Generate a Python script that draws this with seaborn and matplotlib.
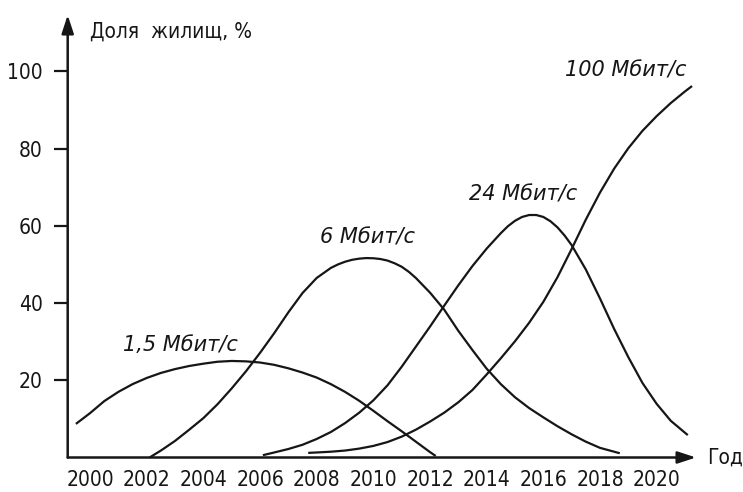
import numpy as np
import pandas as pd
import matplotlib
matplotlib.use("Agg")
import matplotlib.pyplot as plt
from matplotlib import font_manager as fm
import seaborn as sns

# --- data: share of households (%) by connection speed ---
years_15 = [1999.5, 2000, 2000.5, 2001, 2001.5, 2002, 2002.5, 2003, 2003.5, 2004,
            2004.5, 2005, 2005.5, 2006, 2006.5, 2007, 2007.5, 2008, 2008.5, 2009,
            2009.5, 2010, 2010.5, 2011, 2011.5, 2012, 2012.2]
share_15 = [8.7, 11.5, 14.6, 17.0, 19.0, 20.6, 21.9, 22.9, 23.7, 24.3,
            24.8, 25.0, 24.9, 24.6, 24.0, 23.1, 22.0, 20.7, 19.0, 17.0,
            14.7, 12.1, 9.4, 6.8, 4.1, 1.4, 0.4]

years_6 = [2002.1, 2002.5, 2003, 2003.5, 2004, 2004.5, 2005, 2005.5, 2006, 2006.5,
           2007, 2007.5, 2008, 2008.5, 2008.75, 2009, 2009.25, 2009.5, 2009.75, 2010,
           2010.25, 2010.5, 2010.75, 2011, 2011.25, 2011.5, 2012, 2012.5, 2013, 2013.5,
           2014, 2014.5, 2015, 2015.5, 2016, 2016.5, 2017, 2017.5, 2018, 2018.7]
share_6 = [0.0, 1.8, 4.3, 7.2, 10.2, 13.8, 17.9, 22.3, 27.1, 32.2,
           37.6, 42.6, 46.5, 49.1, 50.0, 50.7, 51.2, 51.5, 51.65, 51.6,
           51.4, 51.0, 50.3, 49.4, 48.1, 46.5, 42.7, 38.3, 32.8, 27.8,
           23.0, 19.0, 15.6, 12.8, 10.4, 8.1, 6.0, 4.1, 2.5, 1.1]

years_24 = [2006.1, 2006.5, 2007, 2007.5, 2008, 2008.5, 2009, 2009.5, 2010, 2010.5,
            2011, 2011.5, 2012, 2012.5, 2013, 2013.5, 2014, 2014.5, 2014.75, 2015,
            2015.25, 2015.5, 2015.75, 2016, 2016.25, 2016.5, 2016.75, 2017, 2017.5, 2018,
            2018.5, 2019, 2019.5, 2020, 2020.5, 2021.1]
share_24 = [0.6, 1.3, 2.2, 3.3, 4.8, 6.6, 8.9, 11.6, 14.8, 18.7,
            23.5, 28.7, 33.9, 39.3, 44.6, 49.6, 54.1, 58.1, 59.9, 61.3,
            62.3, 62.8, 62.8, 62.3, 61.2, 59.6, 57.5, 55.0, 48.7, 41.2,
            33.3, 26.0, 19.3, 13.9, 9.5, 5.8]

years_100 = [2007.7, 2008, 2008.5, 2009, 2009.5, 2010, 2010.5, 2011, 2011.5, 2012,
             2012.5, 2013, 2013.5, 2014, 2014.5, 2015, 2015.5, 2016, 2016.5, 2017,
             2017.5, 2018, 2018.5, 2019, 2019.5, 2020, 2020.5, 2021, 2021.25]
share_100 = [1.2, 1.3, 1.5, 1.8, 2.3, 3.0, 4.0, 5.4, 7.2, 9.3,
             11.6, 14.3, 17.5, 21.5, 25.7, 30.1, 34.9, 40.3, 46.7, 54.0,
             61.6, 68.6, 74.8, 80.1, 84.6, 88.4, 91.8, 94.8, 96.2]

series_names = ["1,5 Мбит/с", "6 Мбит/с", "24 Мбит/с", "100 Мбит/с"]
label_pos = {  # (year, share) of the curve captions
    "1,5 Мбит/с": (2003.2, 29.1),
    "6 Мбит/с": (2009.8, 57.1),
    "24 Мбит/с": (2015.3, 68.0),
    "100 Мбит/с": (2018.9, 100.1),
}

x_ticks = list(range(2000, 2021, 2))
y_ticks = [20, 40, 60, 80, 100]

df = pd.concat([
    pd.DataFrame({"year": years_15, "share": share_15, "speed": series_names[0]}),
    pd.DataFrame({"year": years_6, "share": share_6, "speed": series_names[1]}),
    pd.DataFrame({"year": years_24, "share": share_24, "speed": series_names[2]}),
    pd.DataFrame({"year": years_100, "share": share_100, "speed": series_names[3]}),
], ignore_index=True)

sns.set_theme(style="white")
plt.rcParams["font.family"] = ["DejaVu Sans"]


def narrow_font():
    """Pick a condensed sans-serif face if one is installed."""
    files = [f.fname for f in fm.fontManager.ttflist]
    prefs = [("LiberationSansNarrow-Regular", 16.5),
             ("DejaVuSansCondensed.ttf", 15.0),
             ("RobotoCondensed-Regular", 16.0),
             ("OpenSans_Condensed-Regular", 15.5),
             ("LiberationSans-Regular", 15.0)]
    for key, size in prefs:
        for path in files:
            if key in path.split("/")[-1]:
                return fm.FontProperties(fname=path, size=size)
    return fm.FontProperties(family="DejaVu Sans", stretch="condensed", size=14.5)


fp = narrow_font()
ink = "#161616"

fig = plt.figure(figsize=(7.43, 4.92), dpi=100)
ax = fig.add_axes([67.7 / 743, (492 - 457.5) / 492, (696 - 67.7) / 743, (457.5 - 15) / 492])

sns.lineplot(data=df, x="year", y="share", hue="speed", sort=False,
             palette=[ink] * 4, linewidth=1.6, legend=False, ax=ax)
for line in ax.get_lines():
    line.set_solid_capstyle("butt")
    line.set_solid_joinstyle("round")

ax.set_xlim(1999.21, 2021.39)
ax.set_ylim(0, 114.6)

for s in ax.spines.values():
    s.set_visible(False)

# axes drawn as arrows
arrow = dict(arrowstyle="-|>,head_length=1.1,head_width=0.36", color=ink,
             lw=1.8, shrinkA=0, shrinkB=0, mutation_scale=10)
ax.annotate("", xy=(1, 0), xytext=(0, 0), xycoords="axes fraction",
            arrowprops=arrow, annotation_clip=False)
ax.annotate("", xy=(0, 1), xytext=(0, 0), xycoords="axes fraction",
            arrowprops=arrow, annotation_clip=False)

ax.set_xticks(x_ticks)
ax.set_xticklabels([str(t) for t in x_ticks])
ax.set_yticks(y_ticks)
ax.set_yticklabels([str(t) for t in y_ticks])
ax.tick_params(axis="x", length=0, pad=9, colors=ink)
ax.tick_params(axis="y", length=10, width=1.6, pad=8, direction="out",
               left=True, colors=ink)
for lab in ax.get_xticklabels() + ax.get_yticklabels():
    lab.set_fontproperties(fp)
ax.set_xlabel("")
ax.set_ylabel("")

ax.text(2000.0, 110.2, "Доля  жилищ, %", ha="left", va="center",
        fontproperties=fp, color=ink, clip_on=False)
ax.text(2021.8, 0, "Год", ha="left", va="center",
        fontproperties=fp, color=ink, clip_on=False)

for name in series_names:
    x, y = label_pos[name]
    ax.text(x, y, name, ha="center", va="center", fontsize=15, style="italic",
            family=["DejaVu Sans"], color=ink)

fig.savefig("out.png", dpi=100, facecolor="white")
